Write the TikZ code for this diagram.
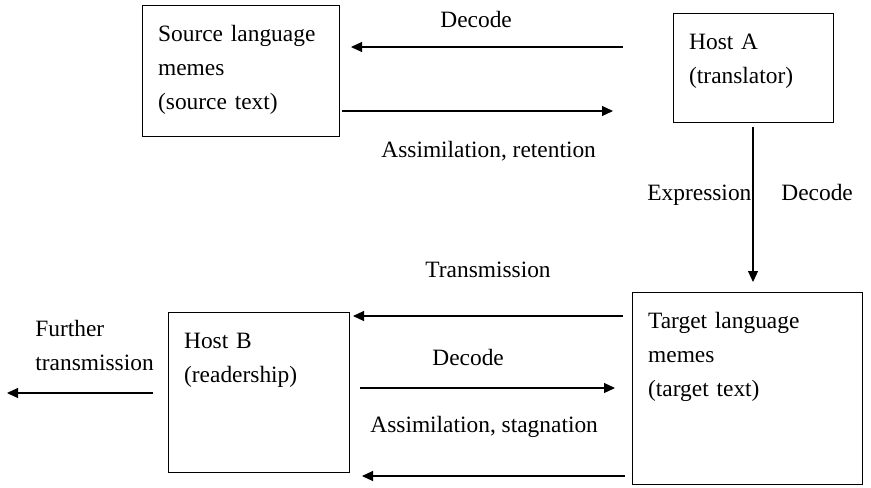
\documentclass[tikz,border=0pt]{standalone}
\usepackage{fontspec}
\setmainfont{Liberation Serif}
\usetikzlibrary{arrows.meta}
\tikzset{
	memebox/.style={draw, line width=0.65pt, anchor=north west, align=left, inner xsep=7.75pt, inner ysep=0pt, text height=18pt},
	lbl/.style={anchor=base west, inner sep=0pt},
	flow/.style={-{Triangle[length=5.5pt,width=5pt]}, line width=0.55pt}
}
\begin{document}
\begin{tikzpicture}[x=0.5pt, y=-0.5pt, font=\fontsize{11.7pt}{17pt}\selectfont]
	\useasboundingbox (0,0) rectangle (871,487);
	% boxes
	\node[memebox, text width=83pt, text depth=47.5pt] (src) at (142,5) {Source language\\memes\\(source text)};
	\node[memebox, text width=64.5pt, text depth=36.5pt] (hostA) at (673,13) {Host A\\(translator)};
	\node[memebox, text width=99.5pt, text depth=78pt] (tgt) at (632,292) {Target language\\memes\\(target text)};
	\node[memebox, text width=75pt, text depth=62pt] (hostB) at (168,312) {Host B\\(readership)};
	% free arrow ends
	\coordinate (decA) at (623,47);
	\coordinate (decS) at (351,47);
	\coordinate (asmS) at (342,111);
	\coordinate (asmA) at (613,111);
	\coordinate (expA) at (753,127);
	\coordinate (expT) at (753,282);
	\coordinate (trnT) at (623,316);
	\coordinate (trnB) at (353,316);
	\coordinate (decB) at (360,388);
	\coordinate (decT) at (615,388);
	\coordinate (retT) at (625,476);
	\coordinate (retB) at (362,476);
	\coordinate (furB) at (153,393);
	\coordinate (furX) at (7,393);
	% arrows
	\draw[flow] (decA) -- (decS);
	\draw[flow] (asmS) -- (asmA);
	\draw[flow] (expA) -- (expT);
	\draw[flow] (trnT) -- (trnB);
	\draw[flow] (decB) -- (decT);
	\draw[flow] (retT) -- (retB);
	\draw[flow] (furB) -- (furX);
	% labels
	\node[lbl] (l1) at (440,27) {Decode};
	\node[lbl] (l2) at (381,157) {Assimilation, retention};
	\node[lbl] (l3) at (647,200) {Expression};
	\node[lbl] (l4) at (781,200) {Decode};
	\node[lbl] (l5) at (425,277) {Transmission};
	\node[lbl] (l6) at (432,365) {Decode};
	\node[lbl] (l7) at (370,432) {Assimilation, stagnation};
	\node[lbl, text width=62pt, align=left] (l8) at (35,336) {Further\\transmission};
\end{tikzpicture}
\end{document}
